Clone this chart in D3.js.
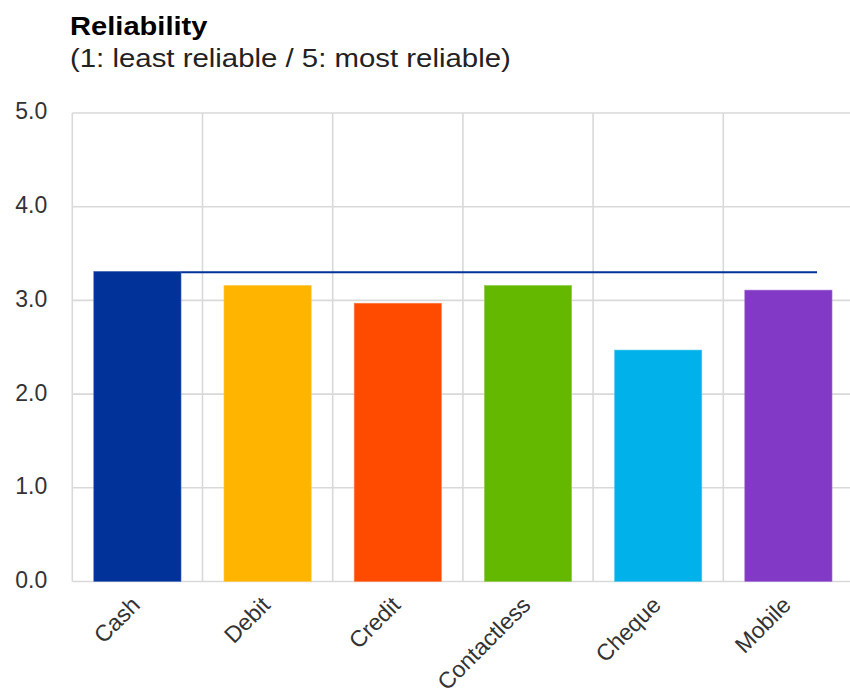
<!DOCTYPE html>
<html>
<head>
<meta charset="utf-8">
<script src="https://cdn.jsdelivr.net/npm/d3@7"></script>
<style>
  html, body { margin: 0; padding: 0; background: #fff; }
  svg { display: block; font-family: "Liberation Sans", Arial, sans-serif; }
</style>
</head>
<body>
<svg id="chart" width="850" height="697"></svg>
<script>
// Average reliability score per payment instrument
const categories = ["Cash", "Debit", "Credit", "Contactless", "Cheque", "Mobile"];
const scores = [3.31, 3.16, 2.97, 3.16, 2.47, 3.11];
const colors = ["#003299", "#FFB400", "#FF4B00", "#65B800", "#00B1EA", "#8139C6"];
const yTicks = [0, 1, 2, 3, 4, 5];
// Benchmark line at the cash score
const benchmark = 3.31;
const titleText = "Reliability";
const subtitleText = "(1: least reliable / 5: most reliable)";

const svg = d3.select("#chart");
const margin = { left: 72.3, top: 113, right: -3.5, bottom: 115.5 };
const W = 850 - margin.left - margin.right;
const H = 697 - margin.top - margin.bottom;

const x = d3.scaleBand().domain(categories).range([0, W]).paddingInner(0).paddingOuter(0);
const y = d3.scaleLinear().domain([0, 5]).range([H, 0]);

// Title block (slightly widened face)
svg.append("text")
  .attr("transform", "translate(70,35) scale(1.12,1)")
  .attr("font-size", 26).attr("font-weight", "bold")
  .attr("fill", "#000")
  .text(titleText);
svg.append("text")
  .attr("transform", "translate(70,67) scale(1.13,1)")
  .attr("font-size", 26)
  .attr("fill", "#222")
  .text(subtitleText);

const g = svg.append("g").attr("transform", `translate(${margin.left},${margin.top})`);

// Horizontal grid
g.append("g").selectAll("line").data(yTicks).join("line")
  .attr("x1", 0).attr("x2", W)
  .attr("y1", d => y(d)).attr("y2", d => y(d))
  .attr("stroke", "#d9d9d9").attr("stroke-width", 1.6);

// Vertical grid at category boundaries
g.append("g").selectAll("line").data(categories).join("line")
  .attr("x1", d => x(d)).attr("x2", d => x(d))
  .attr("y1", 0).attr("y2", H)
  .attr("stroke", "#d9d9d9").attr("stroke-width", 1.6);

const barW = x.bandwidth() * 0.67;
const barX = d => x(d) + (x.bandwidth() - barW) / 2;

// Benchmark line, running on from the cash bar
const lineStart = barX(categories[0]) + barW;
const lineEnd = x(categories[categories.length - 1]) + x.bandwidth() * 0.72;
g.append("line")
  .attr("x1", lineStart).attr("x2", lineEnd)
  .attr("y1", y(benchmark) + 0.8).attr("y2", y(benchmark) + 0.8)
  .attr("stroke", "#003299").attr("stroke-width", 2);

// Bars
g.append("g").selectAll("rect").data(categories).join("rect")
  .attr("x", barX)
  .attr("width", barW)
  .attr("y", (d, i) => y(scores[i]))
  .attr("height", (d, i) => H - y(scores[i]))
  .attr("fill", (d, i) => colors[i])
  .attr("stroke", (d, i) => d3.interpolateRgb(colors[i], "#fff")(0.3))
  .attr("stroke-width", 0.6);

// Y axis labels
const yAxis = d3.axisLeft(y).tickValues(yTicks).tickFormat(d3.format(".1f")).tickSize(0).tickPadding(25);
const ya = g.append("g").call(yAxis);
ya.select(".domain").remove();
ya.selectAll("text")
  .attr("font-family", "Liberation Sans, Arial, sans-serif")
  .attr("font-size", 23)
  .attr("fill", "#333")
  .attr("dy", "0.26em");

// X axis labels, rotated
const xAxis = d3.axisBottom(x).tickSize(0).tickPadding(0);
const xa = g.append("g").attr("transform", `translate(0,${H})`).call(xAxis);
xa.select(".domain").remove();
xa.selectAll("text")
  .attr("font-family", "Liberation Sans, Arial, sans-serif")
  .attr("font-size", 23)
  .attr("fill", "#333")
  .attr("text-anchor", "end")
  .attr("dy", null)
  .attr("y", 0)
  .attr("transform", "translate(4,25) rotate(-45)");
</script>
</body>
</html>
